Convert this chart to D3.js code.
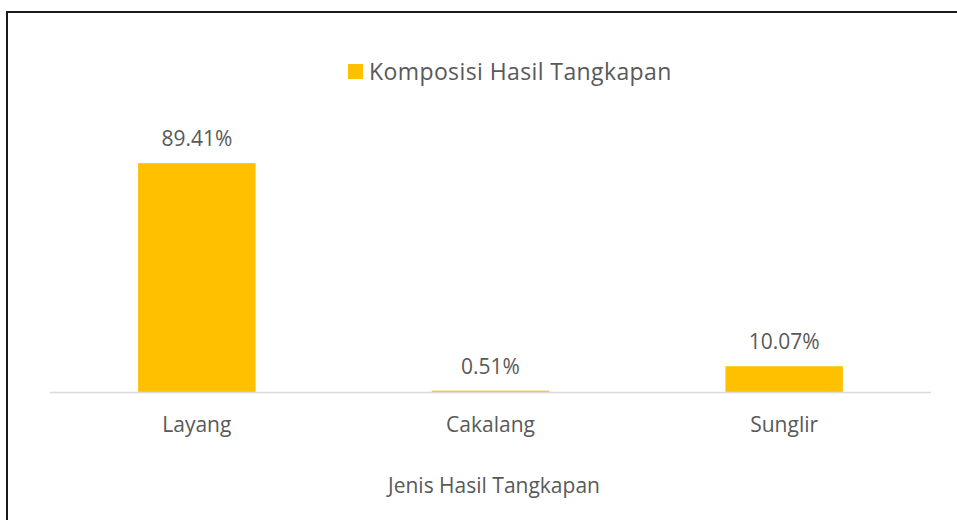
<!DOCTYPE html>
<html lang="id">
<head>
<meta charset="UTF-8">
<title>Komposisi Hasil Tangkapan</title>
<script src="https://d3js.org/d3.v7.min.js"></script>
<style>
  body { margin: 0; background: #fff; }
  text { font-family: "Open Sans", sans-serif; fill: #595959; }
</style>
</head>
<body>
<svg width="957" height="520"></svg>
<script>
// data
const categories = ["Layang", "Cakalang", "Sunglir"];
const values = [89.41, 0.51, 10.07];
const valueLabels = ["89.41%", "0.51%", "10.07%"];
const seriesName = "Komposisi Hasil Tangkapan";
const axisTitle = "Jenis Hasil Tangkapan";

const svg = d3.select("svg");

// frame
svg.append("rect")
  .attr("x", 7).attr("y", 12)
  .attr("width", 980).attr("height", 540)
  .attr("fill", "none")
  .attr("stroke", "#1a1a1a")
  .attr("stroke-width", 2);

const x = d3.scaleBand()
  .domain(categories)
  .range([50, 931])
  .paddingInner(0.6)
  .paddingOuter(0.3);

const y = d3.scaleLinear()
  .domain([0, 100])
  .range([392, 136]);

// bars
svg.selectAll(".bar")
  .data(categories)
  .enter().append("rect")
  .attr("class", "bar")
  .attr("x", d => x(d))
  .attr("y", (d, i) => y(values[i]))
  .attr("width", x.bandwidth())
  .attr("height", (d, i) => y(0) - y(values[i]))
  .attr("fill", "#ffc000");

// baseline
svg.append("line")
  .attr("x1", 50).attr("x2", 931)
  .attr("y1", y(0) + 0.5).attr("y2", y(0) + 0.5)
  .attr("stroke", "#d9d9d9")
  .attr("stroke-width", 1.5);

// value labels
svg.selectAll(".val")
  .data(categories)
  .enter().append("text")
  .attr("class", "val")
  .attr("x", d => x(d) + x.bandwidth() / 2)
  .attr("y", (d, i) => y(values[i]) - 17)
  .attr("text-anchor", "middle")
  .style("font-size", "21px")
  .text((d, i) => valueLabels[i]);

// category labels
svg.selectAll(".cat")
  .data(categories)
  .enter().append("text")
  .attr("class", "cat")
  .attr("x", d => x(d) + x.bandwidth() / 2)
  .attr("y", 432)
  .attr("text-anchor", "middle")
  .style("font-size", "21px")
  .text(d => d);

// axis title
svg.append("text")
  .attr("x", 494)
  .attr("y", 493)
  .attr("text-anchor", "middle")
  .style("font-size", "21px")
  .text(axisTitle);

// legend
const lg = svg.append("g").attr("transform", "translate(348,64)");
lg.append("rect")
  .attr("width", 15).attr("height", 15)
  .attr("fill", "#ffc000");
lg.append("text")
  .attr("x", 21)
  .attr("y", 16)
  .style("font-size", "23px")
  .style("letter-spacing", "0.4px")
  .text(seriesName);
</script>
</body>
</html>
